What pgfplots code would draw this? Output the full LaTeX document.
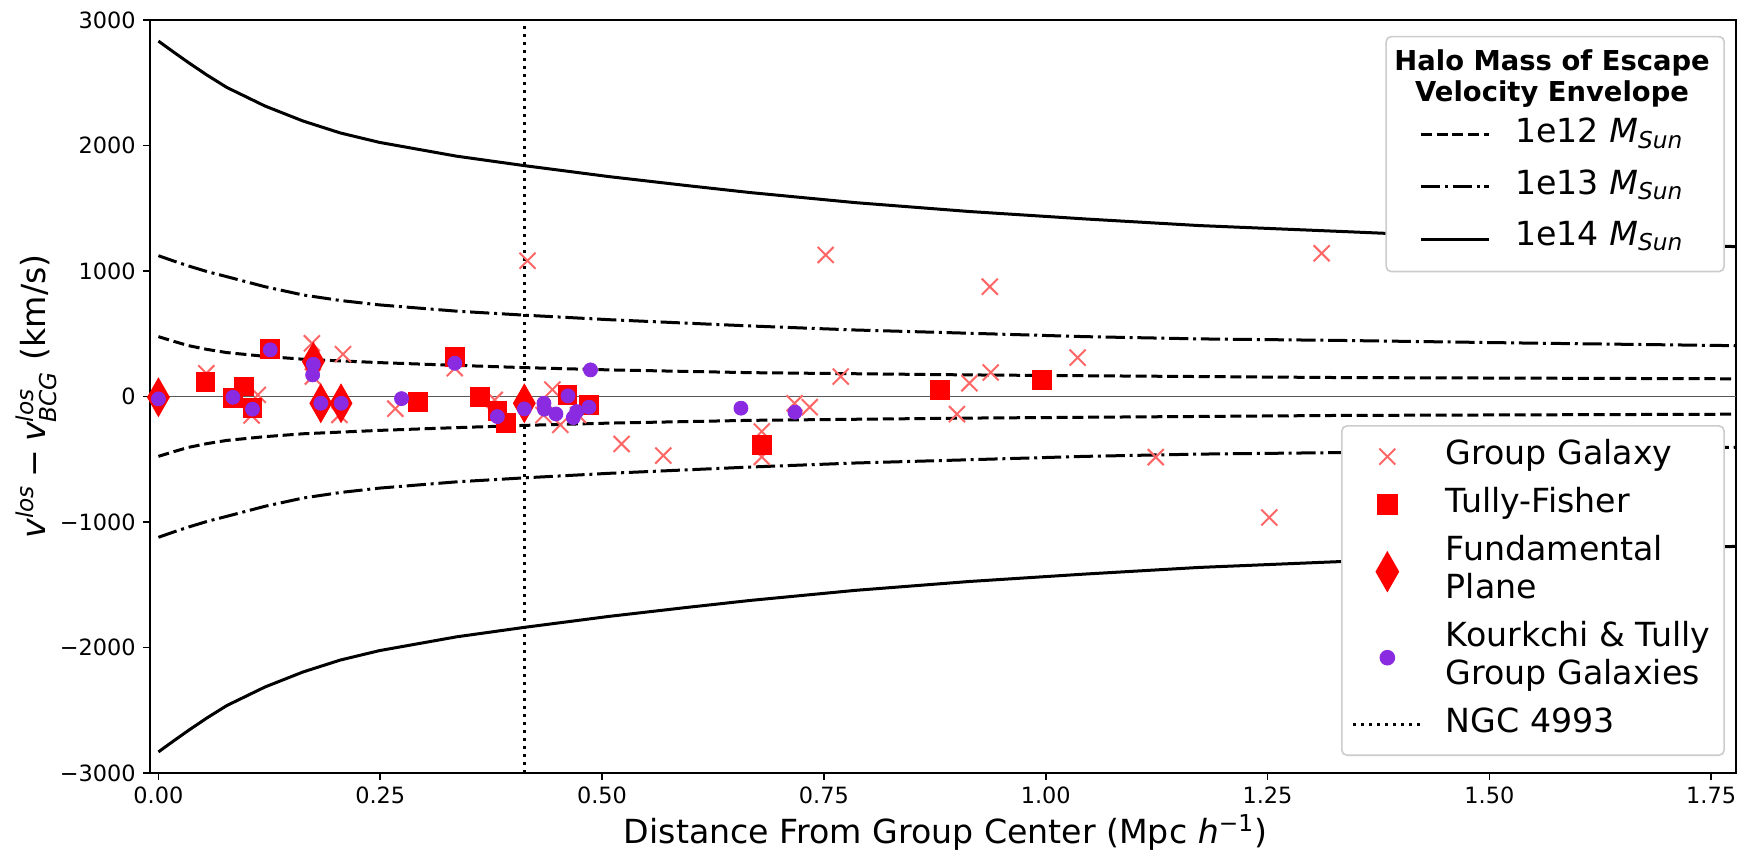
\documentclass[border=0pt]{standalone}
\usepackage{amsmath}
\usepackage{fontspec}
\setmainfont{DejaVu Sans}
\usepackage{pgfplots}
\usepackage{pgfplotstable}
\pgfplotsset{compat=1.18}
\definecolor{gg}{HTML}{FF6666}
\definecolor{kt}{HTML}{8A2BE2}
\definecolor{lgd}{HTML}{CCCCCC}
\newcommand{\lst}{\rule[-4.5pt]{0pt}{17pt}}
\newcommand{\lstlast}{\rule[-6.5pt]{0pt}{19pt}}

% escape velocity envelopes (upper and lower branches)
\pgfplotstableread{
x y
0 477
0.017 440
0.034 405
0.055 375
0.077 350
0.12 320
0.163 297
0.249 270
0.336 248
0.413 230
0.508 212
0.667 190
0.914 172
1.173 159
1.33 151
1.55 146
1.778 141
}\tblDashU
\pgfplotstableread{
x y
0 -477
0.017 -440
0.034 -405
0.055 -375
0.077 -350
0.12 -320
0.163 -297
0.249 -270
0.336 -248
0.413 -230
0.508 -212
0.667 -190
0.914 -172
1.173 -159
1.33 -151
1.55 -146
1.778 -141
}\tblDashL
\pgfplotstableread{
x y
0 1122
0.017 1080
0.034 1040
0.055 995
0.077 955
0.12 875
0.163 809
0.205 765
0.249 730
0.336 680
0.413 648
0.508 612
0.667 562
0.785 530
0.914 504
1.044 477
1.173 459
1.33 447
1.55 425
1.778 405
}\tblDDU
\pgfplotstableread{
x y
0 -1122
0.017 -1080
0.034 -1040
0.055 -995
0.077 -955
0.12 -875
0.163 -809
0.205 -765
0.249 -730
0.336 -680
0.413 -648
0.508 -612
0.667 -562
0.785 -530
0.914 -504
1.044 -477
1.173 -459
1.33 -447
1.55 -425
1.778 -405
}\tblDDL
\pgfplotstableread{
x y
0 2832
0.017 2745
0.034 2660
0.055 2560
0.077 2463
0.12 2315
0.163 2195
0.205 2100
0.249 2025
0.336 1915
0.413 1839
0.508 1752
0.594 1682
0.667 1625
0.785 1545
0.914 1474
1.044 1415
1.173 1362
1.33 1316
1.55 1250
1.778 1194
}\tblSolU
\pgfplotstableread{
x y
0 -2832
0.017 -2745
0.034 -2660
0.055 -2560
0.077 -2463
0.12 -2315
0.163 -2195
0.205 -2100
0.249 -2025
0.336 -1915
0.413 -1839
0.508 -1752
0.594 -1682
0.667 -1625
0.785 -1545
0.914 -1474
1.044 -1415
1.173 -1362
1.33 -1316
1.55 -1250
1.778 -1194
}\tblSolL

% galaxies
\pgfplotstableread{
x y
0.054 185
0.105 -151
0.112 13
0.173 424
0.174 159
0.204 -147
0.208 337
0.267 -97
0.334 226
0.379 -27
0.416 1082
0.434 -147
0.444 55
0.453 -226
0.473 -147
0.522 -378
0.569 -471
0.680 -279
0.680 -481
0.717 -54
0.734 -85
0.752 1128
0.769 159
0.881 45
0.900 -140
0.914 106
0.937 875
0.938 191
1.036 310
1.124 -483
1.252 -964
1.311 1141
}\tblGG
\pgfplotstableread{
x y
0.053 119
0.084 -12
0.0965 80
0.106 -92
0.126 377
0.292 -46
0.334 313
0.362 -5
0.382 -112
0.392 -213
0.461 10
0.485 -67
0.680 -385
0.881 53
0.996 132
}\tblTF
\pgfplotstableread{
x y
0.000 -6
0.1746 278
0.1830 -54
0.2058 -54
0.4124 -54
}\tblFP
\pgfplotstableread{
x y
0.000 -19
0.084 -6
0.106 -101
0.126 372
0.1746 257
0.1738 172
0.183 -54
0.206 -54
0.274 -17
0.334 265
0.382 -160
0.4124 -99
0.4345 -54
0.435 -101
0.448 -139
0.4616 5
0.4676 -168
0.4714 -120
0.4852 -85
0.487 212
0.6565 -93
0.7174 -125
}\tblKT

\pgfplotsset{
  base/.style={
    scale only axis, width=793pt, height=376.5pt,
    xmin=-0.0095, xmax=1.778, ymin=-3000, ymax=3000,
  },
  lgdbox/.style={
    draw=lgd, line width=0.8pt, rounded corners=2.5pt, fill=white,
    font=\fontsize{16.6}{19}\selectfont,
    nodes={inner sep=2pt, text depth=, text height=, align=left},
  },
  dashA/.style={black, line width=1.5pt, dash pattern=on 5.5pt off 2.4pt},
  dashB/.style={black, line width=1.5pt, dash pattern=on 9.6pt off 2.4pt on 1.5pt off 2.4pt},
}

\begin{document}
\begin{tikzpicture}
\begin{axis}[base,
  xtick={0,0.25,0.5,0.75,1,1.25,1.5,1.75},
  xticklabels={0.00,0.25,0.50,0.75,1.00,1.25,1.50,1.75},
  ytick={-3000,-2000,-1000,0,1000,2000,3000},
  yticklabels={−3000,−2000,−1000,0,1000,2000,3000},
  tick align=outside, tick pos=left,
  major tick length=3.6pt,
  tick style={black, line width=0.8pt},
  axis line style={line width=0.8pt},
  tick label style={font=\fontsize{11.2}{13}\selectfont},
  xlabel={Distance From Group Center (Mpc \textit{h}\textsuperscript{−1})},
  ylabel={$\textit{v}^{\textit{los}}\mathbin{\text{−}}\textit{v}^{\textit{los}}_{\textit{BCG}}$ (km/s)},
  label style={font=\fontsize{16.6}{19}\selectfont},
  xlabel style={at={(axis description cs:0.5016,-0.079)}, anchor=center},
  ylabel style={at={(axis description cs:-0.0719,0.5)}, anchor=center},
  legend cell align=left,
  legend style={lgdbox, at={(0.993,0.979)}, anchor=north east,
    inner xsep=5pt, inner ysep=4.5pt, row sep=4.7pt, column sep=10.4pt},
  legend image code/.code={\path[draw=none, fill=none] (0pt,0pt) -- (46.3pt,0pt); \draw[#1, sharp corners] (12.3pt,0pt) -- (46.3pt,0pt);},
]
\addlegendimage{empty legend}
\addlegendentry{\makebox[97.5pt][r]{\raisebox{0pt}[\height][\dimexpr\depth-3.3pt\relax]{\parbox{158pt}{\centering\fontsize{13.7}{15.3}\selectfont\bfseries Halo Mass of Escape\\Velocity Envelope}}}}
\addplot[dashA] table {\tblDashU};
\addlegendentry{\lst 1e12 \textit{M}\textsubscript{\textit{Sun}}}
\addplot[dashB] table {\tblDDU};
\addlegendentry{\lst 1e13 \textit{M}\textsubscript{\textit{Sun}}}
\addplot[black, line width=1.5pt] table {\tblSolU};
\addlegendentry{\lstlast 1e14 \textit{M}\textsubscript{\textit{Sun}}}
\addplot[dashA, forget plot] table {\tblDashL};
\addplot[dashB, forget plot] table {\tblDDL};
\addplot[black, line width=1.5pt, forget plot] table {\tblSolL};
\addplot[black!65, line width=0.9pt, forget plot] coordinates {(-0.0095,0) (1.778,0)};
\end{axis}

\begin{axis}[base, hide axis,
  legend cell align=left,
  legend style={lgdbox, at={(0.993,0.462)}, anchor=north east,
    inner xsep=5pt, inner ysep=4.8pt, row sep=2.9pt, column sep=9.5pt},
  legend image code/.code={\draw[mark repeat=2, mark phase=2, #1, sharp corners] plot coordinates {(0pt,0pt) (17pt,0pt) (34pt,0pt)};},
]
\addplot[only marks, mark=x, mark size=5.66pt, gg, line width=1pt] table {\tblGG};
\addlegendentry{\lst Group Galaxy}
\addplot[only marks, mark=square*, mark size=4.7pt, red] table {\tblTF};
\addlegendentry{\lst Tully-Fisher}
\addplot[only marks, mark=diamond*, mark size=9.6pt, mark options={xscale=0.76}, red] table {\tblFP};
\addlegendentry{\lst Fundamental\\\lst Plane}
\addplot[only marks, mark=*, mark size=3.5pt, kt] table {\tblKT};
\addlegendentry{\lst Kourkchi \& Tully\\\lst Group Galaxies}
\addplot[black, line width=1.5pt, dash pattern=on 1.5pt off 2.5pt] coordinates {(0.413,-3000) (0.413,3000)};
\addlegendentry{\lst NGC 4993}
\end{axis}
\pgfresetboundingbox
\useasboundingbox (-75pt,-39pt) rectangle (793.5pt,386.5pt);
\end{tikzpicture}
\end{document}
